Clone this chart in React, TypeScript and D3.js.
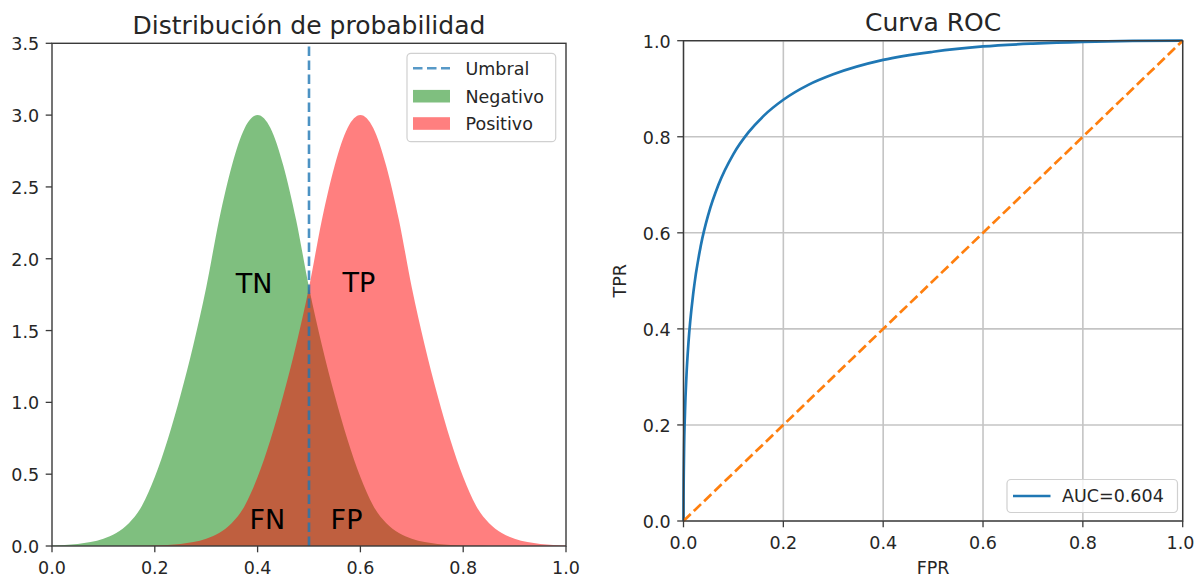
import React from "react";
import * as d3 from "d3";

// ---------- data ----------
const scoreGrid = [
  0, 0.025, 0.05, 0.075, 0.1, 0.125, 0.15, 0.175, 0.2, 0.225,
  0.25, 0.275, 0.3, 0.325, 0.35, 0.375, 0.4, 0.425, 0.45, 0.475,
  0.5, 0.525, 0.55, 0.575, 0.6, 0.625, 0.65, 0.675, 0.7, 0.725,
  0.75, 0.775, 0.8, 0.825, 0.85, 0.875, 0.9, 0.925, 0.95, 0.975, 1.0,
];
const negativeDensity = [
  0.003, 0.007, 0.014, 0.027, 0.05, 0.09, 0.16, 0.28, 0.48, 0.74,
  1.05, 1.4, 1.8, 2.27, 2.65, 2.91, 3.0, 2.91, 2.65, 2.27,
  1.8, 1.4, 1.05, 0.74, 0.48, 0.28, 0.16, 0.09, 0.05, 0.027,
  0.014, 0.007, 0.003, 0.0015, 0.0007, 0.0003, 0.0001, 0, 0, 0, 0,
];
const positiveDensity = [
  0, 0, 0, 0, 0.0001, 0.0003, 0.0007, 0.0015, 0.003, 0.007,
  0.014, 0.027, 0.05, 0.09, 0.16, 0.28, 0.48, 0.74, 1.05, 1.4,
  1.8, 2.27, 2.65, 2.91, 3.0, 2.91, 2.65, 2.27, 1.8, 1.4,
  1.05, 0.74, 0.48, 0.28, 0.16, 0.09, 0.05, 0.027, 0.014, 0.007, 0.003,
];
const threshold = 0.5;

const regionLabels = ["TN", "TP", "FN", "FP"];
const regionLabelX = [0.393, 0.597, 0.419, 0.573];
const regionLabelY = [1.76, 1.77, 0.12, 0.12];

const fpr = [
  0, 0.0001, 0.001, 0.003, 0.006, 0.01, 0.02, 0.035, 0.05, 0.07, 0.1,
  0.13, 0.16, 0.2, 0.25, 0.3, 0.4, 0.5, 0.6, 0.7, 0.8, 0.9, 1.0,
];
const tpr = [
  0, 0.043, 0.138, 0.227, 0.304, 0.372, 0.478, 0.575, 0.639, 0.7, 0.764,
  0.809, 0.843, 0.877, 0.908, 0.93, 0.96, 0.977, 0.988, 0.994, 0.9977, 0.9995, 1.0,
];
const aucLabel = "AUC=0.604";

const distXTicks = [0, 0.2, 0.4, 0.6, 0.8, 1.0];
const distYTicks = [0, 0.5, 1.0, 1.5, 2.0, 2.5, 3.0, 3.5];
const rocTicks = [0, 0.2, 0.4, 0.6, 0.8, 1.0];

// ---------- layout ----------
const W = 1195;
const H = 578;
const FONT = "DejaVu Sans, sans-serif";
const TICK_FS = 17.5;
const TITLE_FS = 25;
const INK = "#262626";
const SPINE = "#3a3a3a";

const left = { x0: 52, x1: 566, y0: 546, y1: 43.3 };
const right = { x0: 683.5, x1: 1182.7, y0: 521, y1: 40.7 };

const fmt1 = d3.format(".1f");

function Frame({ box }: { box: typeof left }) {
  return (
    <rect
      x={box.x0}
      y={box.y1}
      width={box.x1 - box.x0}
      height={box.y0 - box.y1}
      fill="none"
      stroke={SPINE}
      strokeWidth={1.4}
    />
  );
}

function XAxis({ scale, ticks, y }: { scale: d3.ScaleLinear<number, number>; ticks: number[]; y: number }) {
  return (
    <g>
      {ticks.map((t) => (
        <g key={t}>
          <line x1={scale(t)} x2={scale(t)} y1={y} y2={y + 6.3} stroke={SPINE} strokeWidth={1.3} />
          <text
            x={Math.min(scale(t), W - 14.5)}
            y={y + 27.5}
            textAnchor="middle"
            fontFamily={FONT}
            fontSize={TICK_FS}
            fill={INK}
          >
            {fmt1(t)}
          </text>
        </g>
      ))}
    </g>
  );
}

function YAxis({ scale, ticks, x }: { scale: d3.ScaleLinear<number, number>; ticks: number[]; x: number }) {
  return (
    <g>
      {ticks.map((t) => (
        <g key={t}>
          <line x1={x - 6.3} x2={x} y1={scale(t)} y2={scale(t)} stroke={SPINE} strokeWidth={1.3} />
          <text
            x={x - 12.8}
            y={scale(t) + 7}
            textAnchor="end"
            fontFamily={FONT}
            fontSize={TICK_FS}
            fill={INK}
          >
            {fmt1(t)}
          </text>
        </g>
      ))}
    </g>
  );
}

function DistributionPanel() {
  const x = d3.scaleLinear().domain([0, 1]).range([left.x0, left.x1]);
  const y = d3.scaleLinear().domain([0, 3.5]).range([left.y0, left.y1]);

  const area = (vals: number[]) =>
    d3
      .area<number>()
      .x((_, i) => x(scoreGrid[i]))
      .y0(y(0))
      .y1((d) => y(d))
      .curve(d3.curveMonotoneX)(vals) as string;

  const lg = { x: 407, y: 53.3, w: 148.7, h: 88.4 };
  const rows = [68.3, 96.2, 123.5];

  return (
    <g>
      <defs>
        <clipPath id="distClip">
          <rect x={left.x0} y={left.y1} width={left.x1 - left.x0} height={left.y0 - left.y1} />
        </clipPath>
      </defs>
      <g clipPath="url(#distClip)">
        <path d={area(negativeDensity)} fill="#008000" fillOpacity={0.5} />
        <path d={area(positiveDensity)} fill="#ff0000" fillOpacity={0.5} />
        <line
          x1={x(threshold)}
          x2={x(threshold)}
          y1={y(0)}
          y2={y(3.5)}
          stroke="#1f77b4"
          strokeWidth={2.6}
          strokeOpacity={0.8}
          strokeDasharray="9.5 4.5"
        />
      </g>
      {regionLabels.map((t, i) => (
        <text
          key={t}
          x={x(regionLabelX[i])}
          y={y(regionLabelY[i])}
          textAnchor="middle"
          fontFamily={FONT}
          fontSize={27}
          fill="#000"
        >
          {t}
        </text>
      ))}
      <Frame box={left} />
      <XAxis scale={x} ticks={distXTicks} y={left.y0} />
      <YAxis scale={y} ticks={distYTicks} x={left.x0} />
      <text
        x={(left.x0 + left.x1) / 2}
        y={34}
        textAnchor="middle"
        fontFamily={FONT}
        fontSize={TITLE_FS}
        fill={INK}
      >
        Distribución de probabilidad
      </text>

      {/* legend */}
      <rect
        x={lg.x}
        y={lg.y}
        width={lg.w}
        height={lg.h}
        rx={4}
        fill="#fff"
        fillOpacity={0.8}
        stroke="#d0d0d0"
        strokeWidth={1.2}
      />
      <line
        x1={413}
        x2={450}
        y1={rows[0]}
        y2={rows[0]}
        stroke="#1f77b4"
        strokeWidth={2.6}
        strokeOpacity={0.75}
        strokeDasharray="9.5 4.5"
      />
      <rect x={413} y={rows[1] - 6.3} width={37} height={12.6} fill="#008000" fillOpacity={0.5} />
      <rect x={413} y={rows[2] - 6.3} width={37} height={12.6} fill="#ff0000" fillOpacity={0.5} />
      {["Umbral", "Negativo", "Positivo"].map((t, i) => (
        <text
          key={t}
          x={465.5}
          y={rows[i] + 6.3}
          fontFamily={FONT}
          fontSize={TICK_FS}
          fill={INK}
        >
          {t}
        </text>
      ))}
    </g>
  );
}

function RocPanel() {
  const x = d3.scaleLinear().domain([0, 1]).range([right.x0, right.x1]);
  const y = d3.scaleLinear().domain([0, 1]).range([right.y0, right.y1]);

  const line = d3
    .line<number>()
    .x((d) => x(d))
    .y((_, i) => y(tpr[i]))
    .curve(d3.curveMonotoneX);

  const diag = d3
    .line<number>()
    .x((d) => x(d))
    .y((d) => y(d));

  const lgY = 496;

  return (
    <g>
      {/* grid */}
      {rocTicks.map((t) => (
        <g key={t}>
          <line x1={x(t)} x2={x(t)} y1={right.y0} y2={right.y1} stroke="#c4c4c4" strokeWidth={1.6} />
          <line x1={right.x0} x2={right.x1} y1={y(t)} y2={y(t)} stroke="#c4c4c4" strokeWidth={1.6} />
        </g>
      ))}
      <path d={line(fpr) as string} fill="none" stroke="#1f77b4" strokeWidth={2.7} />
      <path
        d={diag([0, 1]) as string}
        fill="none"
        stroke="#ff7f0e"
        strokeWidth={2.7}
        strokeDasharray="10 4.3"
      />
      <Frame box={right} />
      <XAxis scale={x} ticks={rocTicks} y={right.y0} />
      <YAxis scale={y} ticks={rocTicks} x={right.x0} />
      <text
        x={(right.x0 + right.x1) / 2}
        y={31.4}
        textAnchor="middle"
        fontFamily={FONT}
        fontSize={TITLE_FS}
        fill={INK}
      >
        Curva ROC
      </text>
      <text
        x={(right.x0 + right.x1) / 2}
        y={574}
        textAnchor="middle"
        fontFamily={FONT}
        fontSize={TICK_FS}
        fill={INK}
      >
        FPR
      </text>
      <text
        transform={`translate(626,${(right.y0 + right.y1) / 2}) rotate(-90)`}
        textAnchor="middle"
        fontFamily={FONT}
        fontSize={TICK_FS}
        fill={INK}
      >
        TPR
      </text>

      {/* legend */}
      <rect
        x={1007}
        y={lgY - 16.5}
        width={170.5}
        height={33}
        rx={4}
        fill="#fff"
        fillOpacity={0.8}
        stroke="#d0d0d0"
        strokeWidth={1.2}
      />
      <line x1={1013} x2={1050.5} y1={lgY} y2={lgY} stroke="#1f77b4" strokeWidth={2.7} />
      <text x={1062} y={lgY + 6.3} fontFamily={FONT} fontSize={TICK_FS} fill={INK}>
        {aucLabel}
      </text>
    </g>
  );
}

export default function App() {
  return (
    <svg
      width={W}
      height={H}
      viewBox={`0 0 ${W} ${H}`}
      style={{ position: "absolute", left: 0, top: 0, background: "#fff" }}
    >
      <rect x={0} y={0} width={W} height={H} fill="#fff" />
      <DistributionPanel />
      <RocPanel />
    </svg>
  );
}
